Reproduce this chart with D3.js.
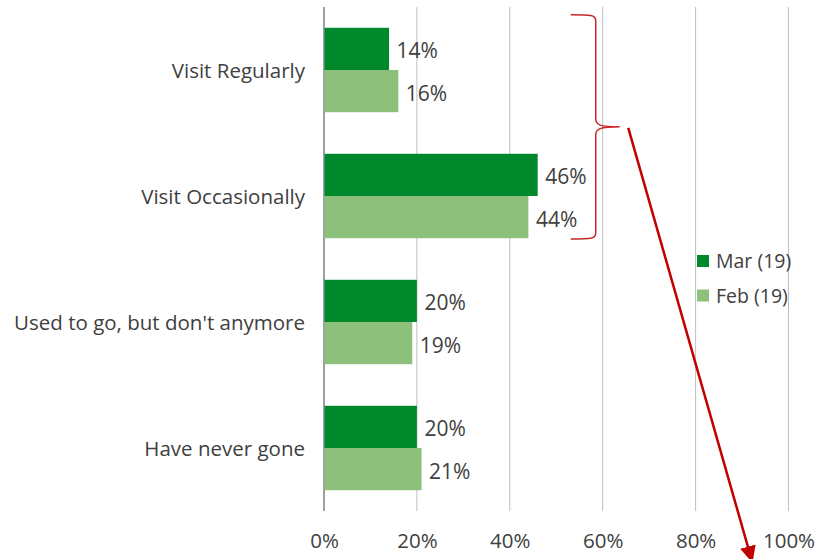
<!DOCTYPE html>
<html><head><meta charset="utf-8">
<script src="https://cdn.jsdelivr.net/npm/d3@7"></script>
<style>
html,body{margin:0;padding:0;background:#fff;}
svg text{font-family:"Open Sans", Lato, sans-serif;fill:#404040;}
</style></head>
<body>
<svg id="chart" width="816" height="559"></svg>
<script>
const categories = ["Visit Regularly", "Visit Occasionally", "Used to go, but don't anymore", "Have never gone"];
const seriesNames = ["Mar (19)", "Feb (19)"];
const marValues = [14, 46, 20, 20];
const febValues = [16, 44, 19, 21];
const tickValues = [0, 20, 40, 60, 80, 100];
const colors = ["#00892C", "#8CC07B"];
// annotation in data units: brace groups first two categories, arrow points downward
const braceX = 58.5;
const arrowFrom = 65.5;
const arrowTo = 92.2;

(function(){
const svg = d3.select("#chart");
const W = 816, H = 559;
const mLeft = 324, mRight = 788.5, mTop = 7, mBottom = 511;
const FF = '"Open Sans", sans-serif';

const x = d3.scaleLinear().domain([0, 100]).range([mLeft, mRight]);
const y = d3.scaleBand().domain(categories).range([mTop, mBottom]).paddingInner(0.33).paddingOuter(0.165);
const sub = d3.scaleBand().domain(seriesNames).range([0, y.bandwidth()]);

svg.append("g").selectAll("line").data(tickValues).join("line")
  .attr("x1", d => x(d)).attr("x2", d => x(d))
  .attr("y1", mTop).attr("y2", mBottom)
  .attr("stroke", d => d === 0 ? "#404040" : "#bfbfbf")
  .attr("stroke-width", 1);

const xAxis = d3.axisBottom(x).tickValues(tickValues).tickFormat(d => d + "%").tickSize(0).tickPadding(0);
const gx = svg.append("g").attr("transform", `translate(0,${548})`).call(xAxis);
gx.select(".domain").remove();
gx.selectAll("text").attr("font-size", 20.5).attr("dy", 0).style("font-family", FF).attr("fill", "#404040");

const yAxis = d3.axisLeft(y).tickSize(0).tickPadding(19);
const gy = svg.append("g").attr("transform", `translate(${mLeft},0)`).call(yAxis);
gy.select(".domain").remove();
gy.selectAll("text").attr("font-size", 20.5).style("font-family", FF).attr("fill", "#404040").attr("dy", "0.37em");

const rows = categories.map((c, i) => ({c, vals: [marValues[i], febValues[i]]}));
const groups = svg.append("g").selectAll("g").data(rows).join("g")
  .attr("transform", d => `translate(0,${y(d.c)})`);
groups.selectAll("rect").data(d => d.vals.map((v, j) => ({v, s: seriesNames[j], j}))).join("rect")
  .attr("x", x(0) + 0.5).attr("y", d => sub(d.s))
  .attr("width", d => x(d.v) - x(0) - 0.5).attr("height", sub.bandwidth())
  .attr("fill", d => colors[d.j]);
groups.selectAll("text.val").data(d => d.vals.map((v, j) => ({v, s: seriesNames[j], j}))).join("text")
  .attr("class", "val")
  .attr("x", d => x(d.v) + 7.5).attr("y", d => sub(d.s) + sub.bandwidth() / 2)
  .attr("dy", "0.45em").attr("font-size", 21)
  .text(d => d.v + "%");

const lg = svg.append("g").attr("transform", "translate(697,255)");
seriesNames.forEach((n, i) => {
  lg.append("rect").attr("x", 0).attr("y", i * 34.5).attr("width", 12).attr("height", 12).attr("fill", colors[i]);
  lg.append("text").attr("x", 19).attr("y", i * 34.5 + 6).attr("dy", "0.37em").attr("font-size", 19.5).text(n);
});

const bTop = y(categories[0]) - 13, bBot = y(categories[1]) + y.bandwidth() + 0.7;
const bMid = (bTop + bBot) / 2;
const bx = x(braceX), tipX = x(braceX) + 24, endX = bx - 25;
const brace = d3.path();
brace.moveTo(endX, bTop);
brace.bezierCurveTo(bx - 5, bTop, bx, bTop, bx, bTop + 6);
brace.lineTo(bx, bMid - 8);
brace.bezierCurveTo(bx, bMid - 2, bx + 4, bMid, tipX, bMid);
brace.moveTo(endX, bBot);
brace.bezierCurveTo(bx - 5, bBot, bx, bBot, bx, bBot - 6);
brace.lineTo(bx, bMid + 8);
brace.bezierCurveTo(bx, bMid + 2, bx + 4, bMid, tipX, bMid);
svg.append("path").attr("d", brace.toString()).attr("fill", "none").attr("stroke", "#C62828").attr("stroke-width", 1.5);

const defs = svg.append("defs");
defs.append("marker").attr("id", "ah").attr("viewBox", "0 0 17 16").attr("refX", 16).attr("refY", 8)
  .attr("markerWidth", 17).attr("markerHeight", 16).attr("markerUnits", "userSpaceOnUse").attr("orient", "auto")
  .append("path").attr("d", "M0,0 L17,8 L0,16 z").attr("fill", "#C00000");
svg.append("line").attr("x1", x(arrowFrom)).attr("y1", bMid + 1).attr("x2", x(arrowTo)).attr("y2", H + 3)
  .attr("stroke", "#C00000").attr("stroke-width", 2.5).attr("marker-end", "url(#ah)");
})();
</script>
</body></html>
